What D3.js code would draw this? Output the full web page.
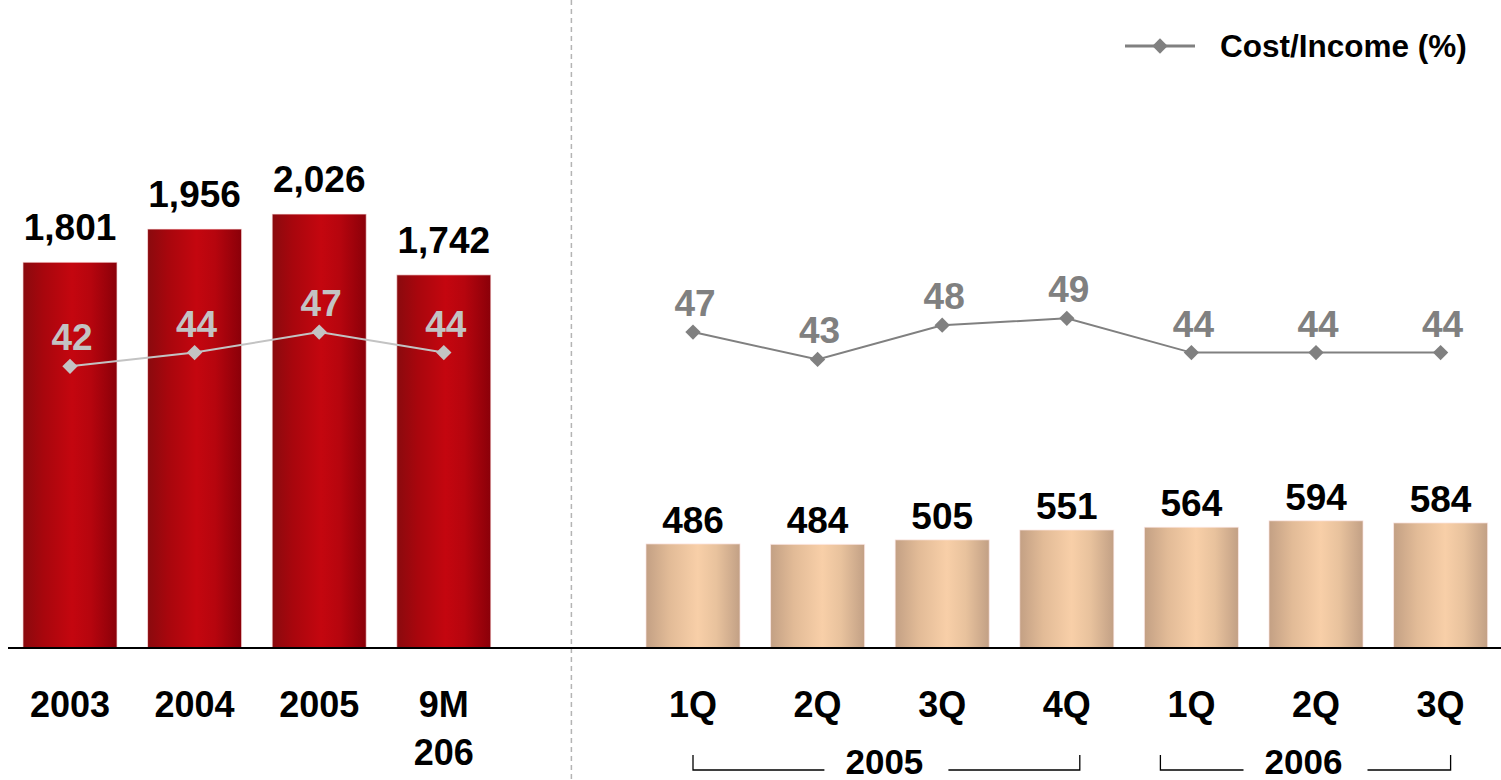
<!DOCTYPE html>
<html>
<head>
<meta charset="utf-8">
<script src="https://cdn.jsdelivr.net/npm/d3@7"></script>
<style>
  html, body { margin: 0; padding: 0; background: #ffffff; }
  svg { display: block; font-family: "Liberation Sans", Arial, sans-serif; font-weight: bold; }
</style>
</head>
<body>
<svg id="chart" width="1501" height="780"></svg>
<script>
// Annual costs (left panel)
const annualCats = ["2003", "2004", "2005", "9M|206"];
const annualCost = [1801, 1956, 2026, 1742];
const annualRatio = [42, 44, 47, 44];

// Quarterly costs (right panel)
const quarterCats = ["1Q", "2Q", "3Q", "4Q", "1Q", "2Q", "3Q"];
const quarterYears = ["2005", "2005", "2005", "2005", "2006", "2006", "2006"];
const quarterCost = [486, 484, 505, 551, 564, 594, 584];
const quarterRatio = [47, 43, 48, 49, 44, 44, 44];

const legendLabel = "Cost/Income (%)";

const W = 1501, H = 780;
const svg = d3.select("#chart");

// one band per slot; an empty slot separates the two panels
const annualKeys = annualCats.map((c, i) => "A" + i);
const quarterKeys = quarterCats.map((c, i) => "Q" + i);
const keys = [...annualKeys, "gap", ...quarterKeys];

const x = d3.scaleBand()
  .domain(keys)
  .range([7.7, 7.7 + 124.6 * keys.length])
  .paddingInner(0.245)
  .paddingOuter(0.1225);
const cx = k => x(k) + x.bandwidth() / 2;

const baseY = 648;
const yBar = d3.scaleLinear().domain([0, 3000]).range([baseY, baseY - 642.6]);
const yRatio = d3.scaleLinear().domain([0, 100]).range([654, -31]);

// gradients
const defs = svg.append("defs");
function gradient(id, stops) {
  const g = defs.append("linearGradient").attr("id", id)
    .attr("x1", "0%").attr("x2", "100%").attr("y1", "0%").attr("y2", "0%");
  stops.forEach(([o, c]) => g.append("stop").attr("offset", o).attr("stop-color", c));
}
gradient("redGrad", [["0%", "#8a0a0e"], ["22%", "#a8060d"], ["52%", "#c4060f"], ["72%", "#b6050e"], ["100%", "#8a0009"]]);
gradient("tanGrad", [["0%", "#c3a084"], ["25%", "#e2bb97"], ["55%", "#f8cfa8"], ["75%", "#e8c29d"], ["100%", "#c2a085"]]);

// divider between panels
const divX = (cx(annualKeys[annualKeys.length - 1]) + cx(quarterKeys[0])) / 2 + 3;
svg.append("line")
  .attr("x1", divX).attr("x2", divX).attr("y1", 0).attr("y2", H)
  .attr("stroke", "#b4b4b4").attr("stroke-width", 1.5)
  .attr("stroke-dasharray", "5,4");

// bars
const annualData = annualCats.map((c, i) => ({ key: annualKeys[i], cat: c, v: annualCost[i], r: annualRatio[i] }));
const quarterData = quarterCats.map((c, i) => ({ key: quarterKeys[i], cat: c, year: quarterYears[i], v: quarterCost[i], r: quarterRatio[i] }));

function drawBars(data, fill, labelGap) {
  svg.append("g").selectAll("rect").data(data).join("rect")
    .attr("x", d => x(d.key))
    .attr("y", d => yBar(d.v))
    .attr("width", x.bandwidth())
    .attr("height", d => baseY - yBar(d.v))
    .attr("fill", fill)
    .attr("stroke", "rgba(255,235,235,0.7)")
    .attr("stroke-width", 1);
  svg.append("g").selectAll("text").data(data).join("text")
    .attr("x", d => cx(d.key))
    .attr("y", d => yBar(d.v) - labelGap)
    .attr("text-anchor", "middle")
    .attr("font-size", 37)
    .attr("fill", "#000")
    .text(d => d3.format(",")(d.v));
}
drawBars(annualData, "url(#redGrad)", 22);
drawBars(quarterData, "url(#tanGrad)", 11);

// baseline
svg.append("line")
  .attr("x1", 8).attr("x2", W).attr("y1", baseY).attr("y2", baseY)
  .attr("stroke", "#000").attr("stroke-width", 2);

// cost/income lines
const diamond = d3.symbol().type(d3.symbolDiamond2).size(150);
function drawRatio(data, color) {
  const line = d3.line().x(d => cx(d.key)).y(d => yRatio(d.r));
  svg.append("path").datum(data)
    .attr("d", line).attr("fill", "none")
    .attr("stroke", color).attr("stroke-width", 2);
  svg.append("g").selectAll("path").data(data).join("path")
    .attr("d", diamond)
    .attr("transform", d => `translate(${cx(d.key)},${yRatio(d.r)})`)
    .attr("fill", color);
  svg.append("g").selectAll("text").data(data).join("text")
    .attr("x", d => cx(d.key) + 2)
    .attr("y", d => yRatio(d.r) - 16)
    .attr("text-anchor", "middle")
    .attr("font-size", 37)
    .attr("fill", color)
    .text(d => d.r);
}
drawRatio(annualData, "#c3c3c3");
drawRatio(quarterData, "#808080");

// category labels
const labelY = 717;
svg.append("g").selectAll("text").data([...annualData, ...quarterData]).join("text")
  .attr("x", d => cx(d.key))
  .attr("y", labelY)
  .attr("text-anchor", "middle")
  .attr("font-size", 36)
  .attr("fill", "#000")
  .each(function (d) {
    const parts = d.cat.split("|");
    d3.select(this).selectAll("tspan").data(parts).join("tspan")
      .attr("x", cx(d.key))
      .attr("dy", (p, i) => i === 0 ? 0 : 48)
      .text(p => p);
  });

// year brackets under the quarters
const years = d3.groups(quarterData, d => d.year);
const bracketSpec = { "2005": [0, 13], "2006": [-31, 10] };
const bracketY = 770, tickTop = 755, bracketGap = 62;
years.forEach(([yr, rows]) => {
  const [offL, offR] = bracketSpec[yr];
  const x0 = cx(rows[0].key) + offL;
  const x1 = cx(rows[rows.length - 1].key) + offR;
  const mid = (x0 + x1) / 2;
  const g = svg.append("g").attr("stroke", "#000").attr("stroke-width", 1.3).attr("fill", "none");
  g.append("path").attr("d", `M${x0},${tickTop}V${bracketY}H${mid - bracketGap}`);
  g.append("path").attr("d", `M${mid + bracketGap},${bracketY}H${x1}V${tickTop}`);
  svg.append("text")
    .attr("x", mid - 2).attr("y", 774)
    .attr("text-anchor", "middle")
    .attr("font-size", 35)
    .attr("fill", "#000")
    .text(yr);
});

// legend
const lg = svg.append("g").attr("transform", "translate(1125,46)");
lg.append("line").attr("x1", 0).attr("x2", 70).attr("y1", 0).attr("y2", 0)
  .attr("stroke", "#808080").attr("stroke-width", 3);
lg.append("path").attr("d", diamond).attr("transform", "translate(35,0)").attr("fill", "#808080");
lg.append("text").attr("x", 95).attr("y", 11)
  .attr("font-size", 31.5).attr("fill", "#000")
  .text(legendLabel);
</script>
</body>
</html>
